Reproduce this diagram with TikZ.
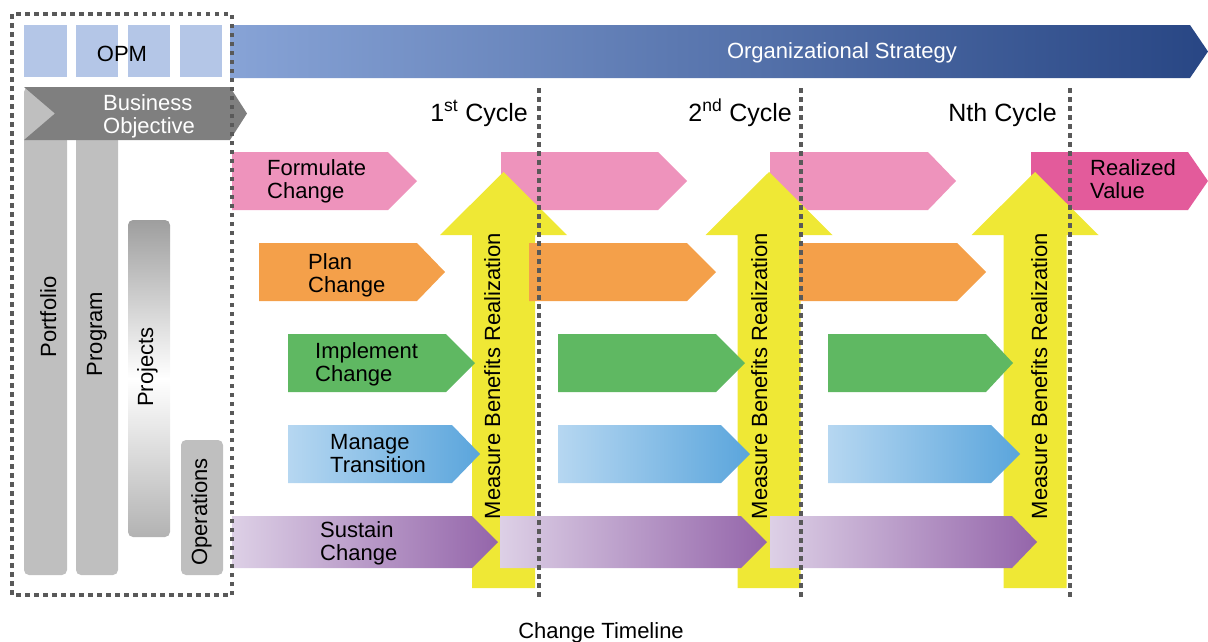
\documentclass[tikz,border=0pt]{standalone}
\usepackage{fontspec}
\setmainfont{Liberation Sans}
\definecolor{opmblue}{HTML}{B4C6E7}
\definecolor{stratL}{RGB}{135,163,214}
\definecolor{stratR}{RGB}{40,70,132}
\definecolor{bogray}{HTML}{7F7F7F}
\definecolor{bargray}{HTML}{BFBFBF}
\definecolor{dotgray}{HTML}{595959}
\definecolor{pinkc}{HTML}{EE93BC}
\definecolor{magc}{HTML}{E35B9B}
\definecolor{orangec}{HTML}{F4A04A}
\definecolor{greenc}{HTML}{5FB862}
\definecolor{blueL}{HTML}{B6D7F1}
\definecolor{blueR}{HTML}{5AA5DC}
\definecolor{purpL}{HTML}{DDD0E6}
\definecolor{purpR}{HTML}{9465AA}
\definecolor{yellowc}{HTML}{EFE835}
\newcommand\harrow[6]{\path[#1] (#2,#3) -- (#4,#3) -- (#5,{(#3+#6)/2}) -- (#4,#6) -- (#2,#6) -- cycle;}
\newcommand\yarrow[1]{\path[fill=yellowc] ({#1-31.5},588) -- ({#1-31.5},235) -- ({#1-63.5},235) -- (#1,172) -- ({#1+63.5},235) -- ({#1+31.5},235) -- ({#1+31.5},588) -- cycle;}
\tikzset{
  txt/.style={inner sep=0pt, font=\fontsize{22}{23.5}\selectfont},
  rowlabel/.style={txt, anchor=north west, align=left},
  vlabel/.style={txt, anchor=base, rotate=90},
  cyclelabel/.style={inner sep=0pt, anchor=base east, font=\fontsize{25}{27}\selectfont},
  dotline/.style={draw=dotgray, line width=4.5pt, dash pattern=on 4.5pt off 4.5pt},
  bar/.style={fill=bargray, rounded corners=5pt},
  opmsq/.style={fill=opmblue}
}
\begin{document}
\begin{tikzpicture}[x=1pt,y=-1pt]
\useasboundingbox (0,0) rectangle (1208,641);
% OPM squares
\path[opmsq] (24,25) rectangle (67,77);
\path[opmsq] (76,25) rectangle (118,77);
\path[opmsq] (128,25) rectangle (170,77);
\path[opmsq] (180,25) rectangle (222,77);
\node[txt, anchor=base] (opm) at (122,61) {OPM};
% Organizational strategy
\harrow{left color=stratL, right color=stratR}{230}{25}{1190}{1208}{78}
\node[txt, anchor=base, text=white] (strat) at (842,58) {Organizational Strategy};
% vertical bars
\path[bar] (24,87) rectangle (67,575);
\path[bar] (76,87) rectangle (118,575);
\path[rounded corners=5pt, top color=black!38, bottom color=black!30, middle color=white] (128,220) rectangle (170,537);
\path[bar] (181,440) rectangle (223,575);
\node[vlabel] (portfolio) at (56,317) {Portfolio};
\node[vlabel] (program) at (102,334) {Program};
\node[vlabel] (projects) at (153,367) {Projects};
\node[vlabel] (operations) at (207,512) {Operations};
% Business objective
\path[fill=bogray] (24,87) -- (230,87) -- (247,113.5) -- (230,140) -- (24,140) -- (55,113.5) -- cycle;
\node[rowlabel, text=white] (bo) at (103,94) {Business\\Objective};
% Formulate row
\harrow{fill=pinkc}{232}{152}{388}{417}{210}
\harrow{fill=pinkc}{501}{152}{658}{687}{210}
\harrow{fill=pinkc}{770}{152}{928}{956}{210}
\harrow{fill=magc}{1031}{152}{1188}{1208}{210}
\node[rowlabel] (formulate) at (267,159) {Formulate\\Change};
\node[rowlabel] (realized) at (1090,159) {Realized\\Value};
% yellow arrows
\yarrow{503.5}
\yarrow{769}
\yarrow{1035}
% Plan row
\harrow{fill=orangec}{259}{243}{417}{445}{301}
\harrow{fill=orangec}{529}{243}{687}{716}{301}
\harrow{fill=orangec}{799}{243}{957}{986}{301}
\node[rowlabel] (plan) at (308,253) {Plan\\Change};
% Implement row
\harrow{fill=greenc}{288}{334}{446}{475}{392}
\harrow{fill=greenc}{558}{334}{716}{745}{392}
\harrow{fill=greenc}{828}{334}{986}{1013}{392}
\node[rowlabel] (implement) at (315,342) {Implement\\Change};
% Manage transition row
\harrow{left color=blueL, right color=blueR}{288}{425}{452}{480}{483}
\harrow{left color=blueL, right color=blueR}{558}{425}{721}{750}{483}
\harrow{left color=blueL, right color=blueR}{828}{425}{991}{1020}{483}
\node[rowlabel] (manage) at (330,434) {Manage\\Transition};
% Sustain row
\harrow{left color=purpL, right color=purpR}{232}{516}{472}{498}{568}
\harrow{left color=purpL, right color=purpR}{500}{516}{741}{767}{568}
\harrow{left color=purpL, right color=purpR}{770}{516}{1012}{1037}{568}
\node[rowlabel] (sustain) at (320,521) {Sustain\\Change};
% Measure labels
\node[vlabel] (mbr1) at (500,376) {Measure Benefits Realization};
\node[vlabel] (mbr2) at (767,376) {Measure Benefits Realization};
\node[vlabel] (mbr3) at (1047,376) {Measure Benefits Realization};
% cycle labels
\node[cyclelabel] (c1) at (528,121) {1\textsuperscript{st} Cycle};
\node[cyclelabel] (c2) at (792,121) {2\textsuperscript{nd} Cycle};
\node[cyclelabel] (c3) at (1057,121) {Nth Cycle};
% dotted lines
\coordinate (d1t) at (539,88); \coordinate (d1b) at (539,597);
\coordinate (d2t) at (801,88); \coordinate (d2b) at (801,597);
\coordinate (d3t) at (1070,88); \coordinate (d3b) at (1070,597);
\draw[dotline] (d1t) -- (d1b);
\draw[dotline] (d2t) -- (d2b);
\draw[dotline] (d3t) -- (d3b);
\draw[dotline] (12,14) rectangle (232,595);
% timeline
\node[txt, anchor=base] (timeline) at (601,638) {Change Timeline};
\end{tikzpicture}
\end{document}
